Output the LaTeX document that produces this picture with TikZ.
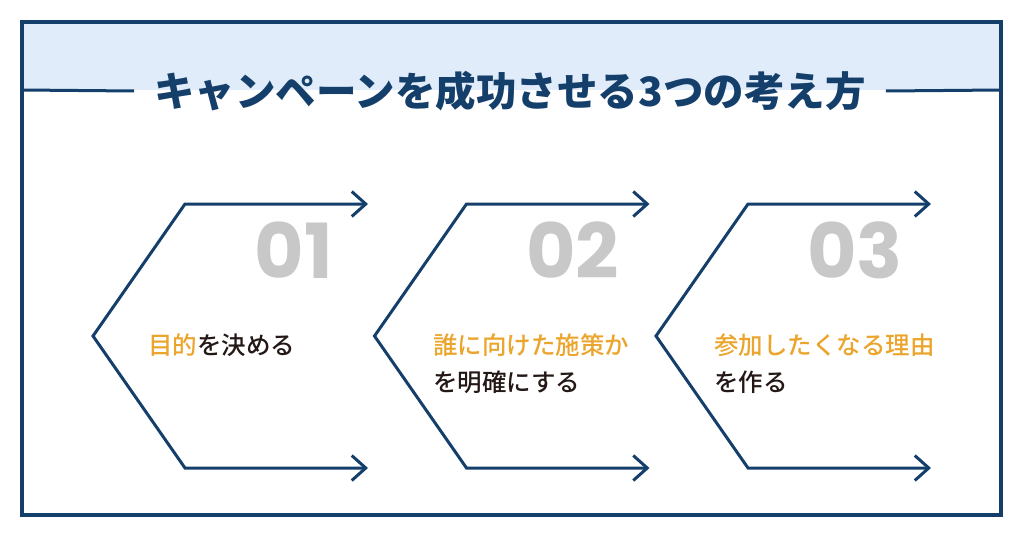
\documentclass[tikz,border=0pt]{standalone}
\usepackage{fontspec}
\usetikzlibrary{arrows.meta,positioning}
\newfontfamily\jpfont{Noto Sans CJK JP}
\newfontfamily\jpmedium{Noto Sans CJK JP Medium}
\newfontfamily\numfont{Poppins}
\definecolor{navy}{HTML}{153F6B}
\definecolor{bandblue}{HTML}{E0ECFA}
\definecolor{numgray}{HTML}{C8C8C8}
\definecolor{accent}{HTML}{EBA52C}
\definecolor{ink}{HTML}{231815}
\tikzset{
  chevron/.style={navy, line width=3pt, line join=miter,
    {Straight Barb[length=14pt,width=25pt,line width=3pt]}-{Straight Barb[length=14pt,width=25pt,line width=3pt]}},
  heading/.style={font=\jpfont\bfseries\fontsize{40.5}{44}\selectfont, text=navy,
    inner xsep=20pt, inner ysep=0pt},
  stepnum/.style={font=\numfont\bfseries\fontsize{76}{80}\selectfont, text=numgray,
    inner sep=0pt},
  body/.style={font=\jpmedium\fontsize{24.5}{28}\selectfont, text=ink,
    anchor=base west, inner sep=0pt}
}
\begin{document}
\begin{tikzpicture}[x=1pt,y=-1pt]
    \useasboundingbox (0,0) rectangle (1024,538);
    \fill[bandblue] (22,22) rectangle (1001,90);

    \node[heading] (title) at (510,91) {キャンペーンを成功させる3つの考え方};
    \draw[navy, line width=3pt] (22,90) -- (title.west);
    \draw[navy, line width=3pt] (title.east) -- (1001,90);
    \draw[navy, line width=4.5pt] (22,22) rectangle (1001,515);

    \foreach \i/\n/\x in {0/01/294,1/02/291,2/03/292} {
    \begin{scope}[shift={(281.5*\i,0)}]
    \draw[chevron]
    (368,204) --
    (185,204) --
    (93,336) --
    (185,468) --
    (368,468)
    ;
    \node[stepnum] (num\n) at (\x,250) {\n};
    \end{scope}
    }

    \node[body] (goal1) at (148,354) {\textcolor{accent}{目的}を決める};
    \node[body, text=accent] (goal2a) at (433,354) {誰に向けた施策か};
    \node[body] (goal2b) at ([yshift=-37pt]goal2a.base west) {を明確にする};
    \node[body, text=accent] (goal3a) at (714,354) {参加したくなる理由};
    \node[body] (goal3b) at ([yshift=-37pt]goal3a.base west) {を作る};
  \end{tikzpicture}
\end{document}
